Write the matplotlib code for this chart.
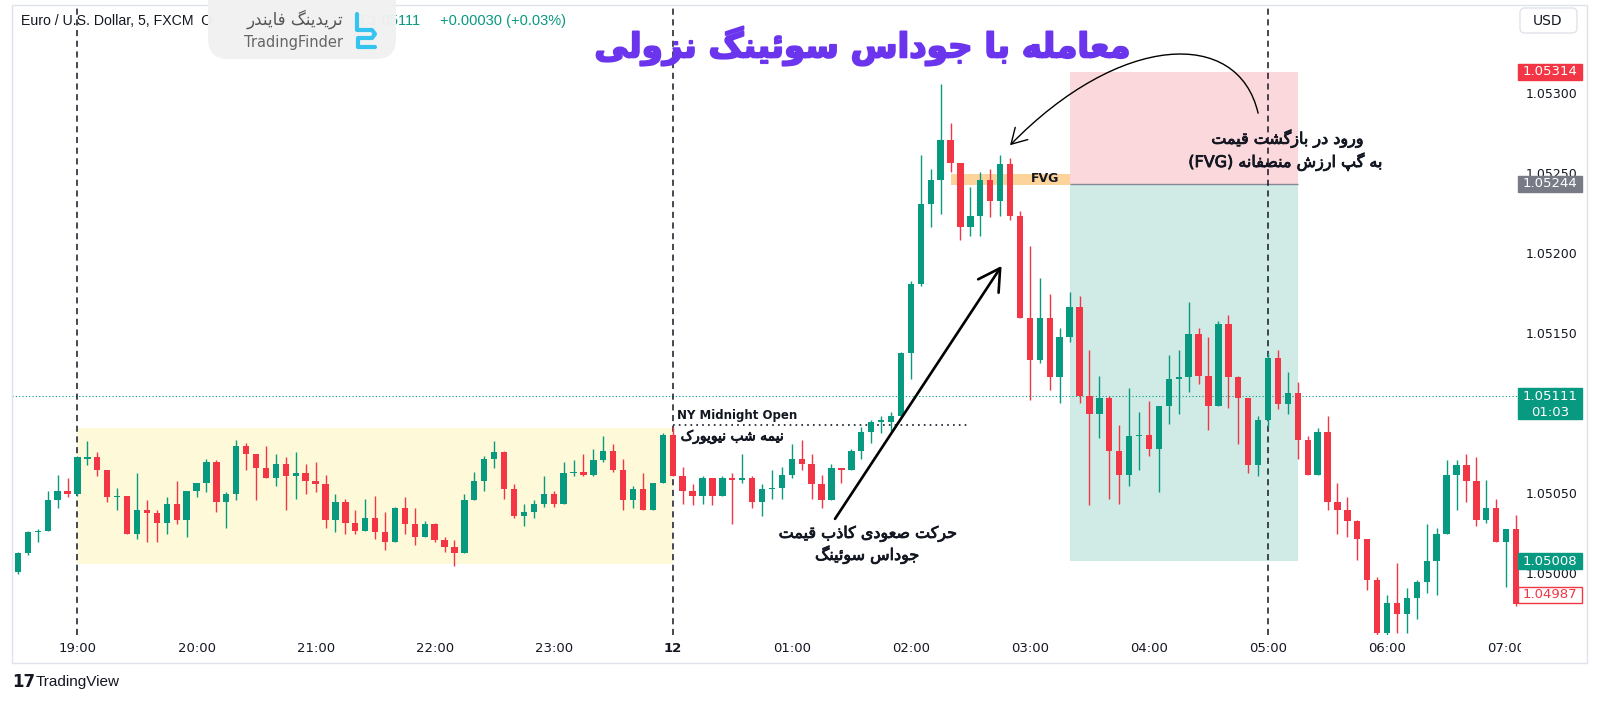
import numpy as np
import matplotlib
matplotlib.use("Agg")
import matplotlib.pyplot as plt
import matplotlib.patheffects as pe
from matplotlib.patches import Rectangle, FancyBboxPatch, FancyArrowPatch, PathPatch
from matplotlib.path import Path
from matplotlib.transforms import Affine2D

# EUR/USD 5 min candles, 18:30 -> 07:05
open_ = [1.05001, 1.05013, 1.05026, 1.05027, 1.05046, 1.05052, 1.05050, 1.05072, 1.05073, 1.05065,
         1.05048, 1.05049, 1.05025, 1.05040, 1.05038, 1.05032, 1.05044, 1.05034, 1.05052, 1.05057,
         1.05070, 1.05045, 1.05050, 1.05080, 1.05075, 1.05066, 1.05060, 1.05069, 1.05061, 1.05063,
         1.05058, 1.05056, 1.05034, 1.05045, 1.05032, 1.05027, 1.05035, 1.05026, 1.05020, 1.05041,
         1.05031, 1.05023, 1.05031, 1.05021, 1.05017, 1.05013, 1.05046, 1.05058, 1.05072, 1.05076,
         1.05053, 1.05036, 1.05039, 1.05044, 1.05050, 1.05044, 1.05063, 1.05064, 1.05062, 1.05071,
         1.05077, 1.05065, 1.05046, 1.05053, 1.05040, 1.05057, 1.05087, 1.05061, 1.05052, 1.05049,
         1.05060, 1.05049, 1.05060, 1.05059, 1.05060, 1.05045, 1.05053, 1.05054, 1.05062, 1.05072,
         1.05069, 1.05056, 1.05046, 1.05066, 1.05065, 1.05077, 1.05089, 1.05095, 1.05095, 1.05099,
         1.05138, 1.05181, 1.05231, 1.05246, 1.05271, 1.05257, 1.05217, 1.05224, 1.05246, 1.05233,
         1.05256, 1.05224, 1.05160, 1.05134, 1.05160, 1.05123, 1.05148, 1.05167, 1.05111, 1.05100,
         1.05110, 1.05077, 1.05062, 1.05086, 1.05087, 1.05078, 1.05105, 1.05122, 1.05123, 1.05150,
         1.05124, 1.05105, 1.05156, 1.05123, 1.05110, 1.05068, 1.05096, 1.05135, 1.05106, 1.05113,
         1.05084, 1.05062, 1.05089, 1.05045, 1.05040, 1.05033, 1.05022, 1.04996, 1.04963, 1.04982,
         1.04975, 1.04985, 1.04995, 1.05008, 1.05025, 1.05062, 1.05068, 1.05058, 1.05034, 1.05041,
         1.05020, 1.05028]
high = [1.05014, 1.05027, 1.05028, 1.05052, 1.05062, 1.05060, 1.05074, 1.05083, 1.05076, 1.05065,
        1.05054, 1.05049, 1.05063, 1.05046, 1.05040, 1.05048, 1.05058, 1.05052, 1.05057, 1.05072,
        1.05071, 1.05051, 1.05084, 1.05082, 1.05075, 1.05080, 1.05075, 1.05073, 1.05076, 1.05069,
        1.05070, 1.05062, 1.05050, 1.05047, 1.05040, 1.05047, 1.05049, 1.05039, 1.05042, 1.05048,
        1.05041, 1.05033, 1.05032, 1.05023, 1.05021, 1.05050, 1.05064, 1.05074, 1.05083, 1.05077,
        1.05056, 1.05044, 1.05046, 1.05061, 1.05052, 1.05070, 1.05071, 1.05075, 1.05078, 1.05086,
        1.05081, 1.05072, 1.05055, 1.05063, 1.05057, 1.05088, 1.05092, 1.05067, 1.05056, 1.05061,
        1.05060, 1.05061, 1.05063, 1.05075, 1.05061, 1.05056, 1.05065, 1.05067, 1.05081, 1.05084,
        1.05075, 1.05062, 1.05069, 1.05066, 1.05078, 1.05092, 1.05096, 1.05099, 1.05101, 1.05139,
        1.05183, 1.05262, 1.05253, 1.05306, 1.05282, 1.05257, 1.05242, 1.05251, 1.05253, 1.05262,
        1.05260, 1.05227, 1.05205, 1.05185, 1.05175, 1.05154, 1.05176, 1.05174, 1.05140, 1.05124,
        1.05111, 1.05093, 1.05116, 1.05101, 1.05108, 1.05105, 1.05137, 1.05140, 1.05170, 1.05154,
        1.05148, 1.05158, 1.05162, 1.05124, 1.05110, 1.05099, 1.05138, 1.05140, 1.05126, 1.05120,
        1.05086, 1.05091, 1.05099, 1.05057, 1.05048, 1.05034, 1.05022, 1.04998, 1.04987, 1.05007,
        1.04991, 1.04996, 1.05031, 1.05029, 1.05071, 1.05071, 1.05075, 1.05073, 1.05059, 1.05047,
        1.05028, 1.05037]
low = [1.05000, 1.05012, 1.05020, 1.05027, 1.05041, 1.05048, 1.05049, 1.05068, 1.05061, 1.05045,
       1.05040, 1.05025, 1.05022, 1.05020, 1.05020, 1.05025, 1.05031, 1.05023, 1.05048, 1.05051,
       1.05039, 1.05029, 1.05046, 1.05065, 1.05046, 1.05060, 1.05055, 1.05040, 1.05047, 1.05050,
       1.05051, 1.05029, 1.05026, 1.05025, 1.05025, 1.05027, 1.05022, 1.05015, 1.05020, 1.05025,
       1.05018, 1.05023, 1.05020, 1.05014, 1.05005, 1.05013, 1.05046, 1.05052, 1.05066, 1.05047,
       1.05035, 1.05030, 1.05035, 1.05042, 1.05042, 1.05044, 1.05061, 1.05061, 1.05061, 1.05070,
       1.05064, 1.05040, 1.05041, 1.05040, 1.05040, 1.05057, 1.05061, 1.05044, 1.05043, 1.05044,
       1.05043, 1.05049, 1.05031, 1.05057, 1.05041, 1.05036, 1.05047, 1.05047, 1.05060, 1.05065,
       1.05047, 1.05041, 1.05046, 1.05057, 1.05065, 1.05072, 1.05082, 1.05088, 1.05089, 1.05098,
       1.05122, 1.05180, 1.05217, 1.05225, 1.05251, 1.05209, 1.05211, 1.05211, 1.05223, 1.05224,
       1.05221, 1.05160, 1.05109, 1.05132, 1.05115, 1.05107, 1.05145, 1.05107, 1.05043, 1.05085,
       1.05047, 1.05044, 1.05055, 1.05065, 1.05074, 1.05051, 1.05094, 1.05100, 1.05114, 1.05119,
       1.05090, 1.05105, 1.05104, 1.05081, 1.05063, 1.05061, 1.05092, 1.05103, 1.05100, 1.05072,
       1.05062, 1.05062, 1.05040, 1.05025, 1.05023, 1.05009, 1.04990, 1.04961, 1.04961, 1.04963,
       1.04963, 1.04972, 1.04988, 1.04987, 1.05025, 1.05040, 1.05045, 1.05030, 1.05032, 1.05020,
       1.04992, 1.04980]
close = [1.05013, 1.05026, 1.05027, 1.05046, 1.05052, 1.05050, 1.05073, 1.05073, 1.05065, 1.05048,
         1.05049, 1.05025, 1.05040, 1.05038, 1.05032, 1.05044, 1.05034, 1.05052, 1.05057, 1.05070,
         1.05045, 1.05050, 1.05080, 1.05075, 1.05066, 1.05060, 1.05069, 1.05061, 1.05063, 1.05058,
         1.05056, 1.05034, 1.05045, 1.05032, 1.05027, 1.05035, 1.05026, 1.05020, 1.05041, 1.05031,
         1.05023, 1.05031, 1.05021, 1.05017, 1.05013, 1.05046, 1.05058, 1.05072, 1.05076, 1.05053,
         1.05036, 1.05039, 1.05044, 1.05050, 1.05044, 1.05063, 1.05064, 1.05062, 1.05071, 1.05077,
         1.05065, 1.05046, 1.05053, 1.05040, 1.05057, 1.05087, 1.05061, 1.05052, 1.05049, 1.05060,
         1.05049, 1.05060, 1.05059, 1.05060, 1.05045, 1.05053, 1.05054, 1.05062, 1.05072, 1.05069,
         1.05056, 1.05046, 1.05066, 1.05065, 1.05077, 1.05089, 1.05095, 1.05096, 1.05099, 1.05138,
         1.05181, 1.05231, 1.05246, 1.05271, 1.05257, 1.05217, 1.05224, 1.05246, 1.05233, 1.05256,
         1.05224, 1.05160, 1.05134, 1.05160, 1.05123, 1.05148, 1.05167, 1.05111, 1.05100, 1.05110,
         1.05077, 1.05062, 1.05086, 1.05087, 1.05078, 1.05105, 1.05122, 1.05123, 1.05150, 1.05124,
         1.05105, 1.05156, 1.05123, 1.05110, 1.05068, 1.05096, 1.05135, 1.05106, 1.05113, 1.05084,
         1.05062, 1.05089, 1.05045, 1.05040, 1.05033, 1.05022, 1.04996, 1.04963, 1.04982, 1.04975,
         1.04985, 1.04995, 1.05008, 1.05025, 1.05062, 1.05068, 1.05058, 1.05034, 1.05041, 1.05020,
         1.05028, 1.04981]

time_labels = ["19:00", "20:00", "21:00", "22:00", "23:00", "12", "01:00",
               "02:00", "03:00", "04:00", "05:00", "06:00", "07:00"]
time_ticks = [6, 18, 30, 42, 54, 66, 78, 90, 102, 114, 126, 138, 150]
session_lines = [6, 66, 126]          # 19:00, 00:00, 05:00
price_ticks = [1.05000, 1.05050, 1.05150, 1.05200, 1.05250, 1.05300]  # 1.05100 sits under the last-price tag

asia_start, asia_end = 6, 66
asia_low, asia_high = 1.05006, 1.05091
midnight_open = 1.05093
fvg_start, fvg_end = 94, 106
fvg_low, fvg_high = 1.05243, 1.05250
trade_start, trade_end = 106, 129
entry, stop, target = 1.05244, 1.05314, 1.05008
last_price = 1.05111
countdown = "01:03"
other_price = 1.04987

GREEN = "#089981"
RED = "#f23645"
INK = "#131722"

# --- tiny Persian shaper (matplotlib has no RTL / joining support) ---
def _f(code, n):
    return [chr(code + k) for k in range(n)]

FORMS = {
    'ا': _f(0xFE8D, 2), 'آ': _f(0xFE81, 2), 'د': _f(0xFEA9, 2), 'ذ': _f(0xFEAB, 2),
    'ر': _f(0xFEAD, 2), 'ز': _f(0xFEAF, 2), 'ژ': _f(0xFB8A, 2), 'و': _f(0xFEED, 2),
    'ب': _f(0xFE8F, 4), 'پ': _f(0xFB56, 4), 'ت': _f(0xFE95, 4), 'ث': _f(0xFE99, 4),
    'ج': _f(0xFE9D, 4), 'چ': _f(0xFB7A, 4), 'ح': _f(0xFEA1, 4), 'خ': _f(0xFEA5, 4),
    'س': _f(0xFEB1, 4), 'ش': _f(0xFEB5, 4), 'ص': _f(0xFEB9, 4), 'ض': _f(0xFEBD, 4),
    'ط': _f(0xFEC1, 4), 'ظ': _f(0xFEC5, 4), 'ع': _f(0xFEC9, 4), 'غ': _f(0xFECD, 4),
    'ف': _f(0xFED1, 4), 'ق': _f(0xFED5, 4), 'ک': _f(0xFB8E, 4), 'گ': _f(0xFB92, 4),
    'ل': _f(0xFEDD, 4), 'م': _f(0xFEE1, 4), 'ن': _f(0xFEE5, 4), 'ه': _f(0xFEE9, 4),
    'ی': _f(0xFBFC, 4), 'ئ': _f(0xFE89, 4),
}


def fa(text):
    out = []
    for i, ch in enumerate(text):
        if ch not in FORMS:
            out.append(ch)
            continue
        prev = text[i - 1] if i > 0 else ""
        nxt = text[i + 1] if i + 1 < len(text) else ""
        forms = FORMS[ch]
        jp = prev in FORMS and len(FORMS[prev]) == 4
        jn = len(forms) == 4 and nxt in FORMS
        if jp and jn:
            out.append(forms[3])
        elif jp:
            out.append(forms[1])
        elif jn:
            out.append(forms[2])
        else:
            out.append(forms[0])
    return "".join(reversed(out))


W, H = 1600, 702
fig = plt.figure(figsize=(W / 100, H / 100), dpi=100)
fig.patch.set_facecolor("white")
px = Affine2D().scale(1 / W, -1 / H).translate(0, 1) + fig.transFigure

y_lo, y_hi = 1.0496188, 1.0535563
ax = fig.add_axes([12 / W, 1 - 635 / H, (1521 - 12) / W, 630 / H])
ax.set_xlim(-0.6, 151.5)
ax.set_ylim(y_lo, y_hi)
ax.axis("off")

# zones
ax.add_patch(Rectangle((asia_start, asia_low), asia_end - asia_start, asia_high - asia_low,
                       fc="#fef9d8", ec="none", zorder=0))
ax.add_patch(Rectangle((trade_start, entry), trade_end - trade_start, stop - entry,
                       fc="#fbd8db", ec="none", zorder=0))
ax.add_patch(Rectangle((trade_start, target), trade_end - trade_start, entry - target,
                       fc="#d0ebe6", ec="none", zorder=0))
ax.hlines(entry, trade_start, trade_end, color="#868993", lw=1, zorder=1)
ax.add_patch(Rectangle((fvg_start, fvg_low), fvg_end - fvg_start, fvg_high - fvg_low,
                       fc="#fcd49b", ec="none", zorder=1))

for xv in session_lines:
    ax.axvline(xv, color=INK, lw=1.1, ls=(0, (4, 3)), zorder=2)
ax.axhline(last_price, color=GREEN, lw=0.8, ls=(0, (1, 2)), zorder=1)
ax.hlines(midnight_open, asia_end, 96, color=INK, lw=1.2, ls=(0, (1, 2.5)), zorder=2)

# candles
o, h, l, c = map(np.array, (open_, high, low, close))
x = np.arange(len(o))
cols = np.where(c >= o, GREEN, RED)
ax.vlines(x, l, h, colors=cols, lw=1, zorder=3)
ax.bar(x, np.maximum(np.abs(c - o), 0.0000065), bottom=np.minimum(o, c), width=0.64,
       color=cols, linewidth=0, zorder=4)

# annotations
fa_font = "DejaVu Sans"
semi = [pe.withStroke(linewidth=0.6, foreground=INK)]
ax.text(66.4, 1.05099, "NY Midnight Open", fontsize=8.5, weight="bold", color=INK,
        ha="left", va="center", zorder=6)
ax.text(66.8, 1.05086, fa("نیمه شب نیویورک"), fontsize=10, family=fa_font, color=INK,
        ha="left", va="center", zorder=6, path_effects=semi)
ax.text(103.5, 1.05247, "FVG", fontsize=9, weight="bold", color=INK, ha="center",
        va="center", zorder=6)

ax.text(128.0, 1.05272, fa("ورود در بازگشت قیمت"), fontsize=11.5, family=fa_font,
        color=INK, ha="center", va="center", zorder=6, path_effects=semi)
ax.text(127.8, 1.052575, "(FVG) " + fa("به گپ ارزش منصفانه"), fontsize=11.5,
        family=fa_font, color=INK, ha="center", va="center", zorder=6, path_effects=semi)
ax.text(85.7, 1.05025, fa("حرکت صعودی کاذب قیمت"), fontsize=11.5, family=fa_font,
        color=INK, ha="center", va="center", zorder=6, path_effects=semi)
ax.text(85.6, 1.05012, fa("جوداس سوئینگ"), fontsize=11.5, family=fa_font,
        color=INK, ha="center", va="center", zorder=6, path_effects=semi)

ax.add_patch(FancyArrowPatch((82.2, 1.05033), (99.3, 1.05194),
                             arrowstyle="->,head_length=0.7,head_width=0.4",
                             mutation_scale=22, lw=1.9, color="black", zorder=7))
curve = Path([(125.0, 1.05288), (123.0, 1.05342), (111.0, 1.05338), (100.0, 1.05268)],
             [Path.MOVETO, Path.CURVE4, Path.CURVE4, Path.CURVE4])
ax.add_patch(FancyArrowPatch(path=curve, arrowstyle="->,head_length=0.6,head_width=0.35",
                             mutation_scale=18, lw=1.0, color="black", zorder=7))

# time axis
tax = fig.add_axes([12 / W, 1 - 663 / H, (1521 - 12) / W, 28 / H])
tax.set_xlim(-0.6, 151.5)
tax.set_ylim(0, 1)
tax.axis("off")
for t, lab in zip(time_ticks, time_labels):
    tax.text(t, 0.5, lab, fontsize=9.5, color=INK, ha="center", va="center",
             weight="bold" if lab == "12" else "normal", clip_on=True)

# price axis
pax = fig.add_axes([1521 / W, 1 - 635 / H, 66 / W, 630 / H])
pax.set_xlim(0, 1)
pax.set_ylim(y_lo, y_hi)
pax.axis("off")
for p in price_ticks:
    pax.text(0.47, p, f"{p:.5f}", fontsize=9, color=INK, ha="center", va="center")


def tag(p, text, fc, tc, ec=None, lo=0.00005, hi=0.00005):
    pax.add_patch(Rectangle((-0.045, p - lo), 0.97, lo + hi, fc=fc, ec=ec or fc, lw=1,
                            clip_on=False, zorder=5))
    pax.text(0.44, p, text, fontsize=9.5, color=tc, ha="center", va="center", zorder=6)


tag(stop, f"{stop:.5f}", RED, "white")
tag(entry, f"{entry:.5f}", "#787b86", "white")
tag(last_price, f"{last_price:.5f}", GREEN, "white", lo=0.000141, hi=0.000053)
pax.text(0.44, last_price - 0.0001, countdown, fontsize=9.5, color="white", ha="center",
         va="center", zorder=6)
tag(target, f"{target:.5f}", GREEN, "white")
tag(other_price, f"{other_price:.5f}", "white", RED, ec=RED)

# frame, header, logos
fig.add_artist(Rectangle((12, 5), 1575, 658, transform=px, fill=False, ec="#e0e3eb", lw=1))
fig.add_artist(FancyBboxPatch((1520, 8), 57, 25, boxstyle="round,pad=0,rounding_size=5",
                              transform=px, fc="white", ec="#e0e3eb", lw=1))
fig.text(1548 / W, 1 - 21 / H, "USD", fontsize=10, color=INK, ha="center", va="center")

fig.text(21 / W, 1 - 21 / H, "Euro / U.S. Dollar, 5, FXCM  O", fontsize=10.2,
         family="Liberation Sans", color=INK, va="center")
fig.text(420 / W, 1 - 21 / H, "C1.05111", fontsize=10.5,
         family="Liberation Sans", color=GREEN, va="center", ha="right")
fig.text(566 / W, 1 - 21 / H, "+0.00030 (+0.03%)", fontsize=10.5,
         family="Liberation Sans", color=GREEN, va="center", ha="right")
fig.add_artist(FancyBboxPatch((208, -25), 188, 84, boxstyle="round,pad=0,rounding_size=20",
                              transform=px, fc="#f1f1f1", ec="none", alpha=0.97, zorder=5))
fig.text(295 / W, 1 - 19 / H, fa("تریدینگ فایندر"), fontsize=12, family=fa_font,
         color="#555555", ha="center", va="center", zorder=6)
fig.text(294 / W, 1 - 43 / H, "TradingFinder", fontsize=10.5, color="#666666",
         ha="center", va="center", zorder=6)
icon = Path([(357, 14), (357, 30), (372, 30), (375, 34), (372, 38), (358, 38), (358, 47), (375, 47)])
fig.add_artist(PathPatch(icon, transform=px, fill=False, ec="#35c4f0", lw=3,
                         capstyle="round", joinstyle="round", zorder=6))

title_col = "#6b35ee"
fig.text(862 / W, 1 - 46 / H, fa("معامله با جوداس سوئینگ نزولی"), fontsize=24.5,
         family=fa_font, weight="bold", color=title_col, ha="center", va="center",
         path_effects=[pe.withStroke(linewidth=1.4, foreground=title_col)])

fig.text(12 / W, 1 - 682 / H, "17", fontsize=12, weight="heavy", color=INK, va="center")
fig.text(36 / W, 1 - 682 / H, "TradingView", fontsize=11, color=INK, va="center",
         family="Liberation Sans")

fig.savefig("out.png", dpi=100)
